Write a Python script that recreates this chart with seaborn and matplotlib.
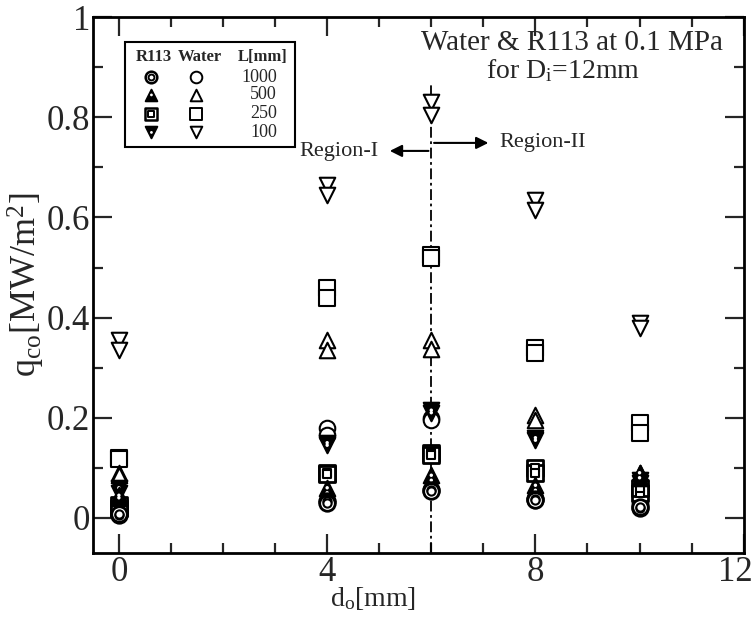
import numpy as np
import pandas as pd
import matplotlib
matplotlib.use("Agg")
import matplotlib.pyplot as plt
import matplotlib.transforms as mtransforms
import seaborn as sns

# Outlet orifice diameter d_o [mm]
d_o = [0, 4, 6, 8, 10]

# Critical heat flux q_co [MW/m^2], two runs per condition
water_100_a = [0.355, 0.665, 0.830, 0.635, 0.390]
water_100_b = [0.335, 0.645, 0.805, 0.615, 0.380]
water_250_a = [0.120, 0.460, 0.525, 0.340, 0.190]
water_250_b = [0.118, 0.440, 0.520, 0.330, 0.170]
water_500_a = [0.090, 0.355, 0.355, 0.205, 0.090]
water_500_b = [0.085, 0.335, 0.338, 0.195, 0.085]
water_1000_a = [0.020, 0.180, 0.200, 0.040, 0.030]
water_1000_b = [0.015, 0.165, 0.195, 0.035, 0.025]

r113_100_a = [0.060, 0.150, 0.215, 0.160, 0.075]
r113_100_b = [0.050, 0.145, 0.210, 0.155, 0.070]
r113_250_a = [0.020, 0.090, 0.130, 0.100, 0.050]
r113_250_b = [0.025, 0.088, 0.125, 0.090, 0.060]
r113_500_a = [0.045, 0.060, 0.085, 0.065, 0.090]
r113_500_b = [0.040, 0.050, 0.075, 0.055, 0.080]
r113_1000_a = [0.005, 0.033, 0.056, 0.038, 0.020]
r113_1000_b = [0.008, 0.030, 0.054, 0.035, 0.022]

lengths = [1000, 500, 250, 100]

series = {
    ("Water", 100): (water_100_a, water_100_b),
    ("Water", 250): (water_250_a, water_250_b),
    ("Water", 500): (water_500_a, water_500_b),
    ("Water", 1000): (water_1000_a, water_1000_b),
    ("R113", 100): (r113_100_a, r113_100_b),
    ("R113", 250): (r113_250_a, r113_250_b),
    ("R113", 500): (r113_500_a, r113_500_b),
    ("R113", 1000): (r113_1000_a, r113_1000_b),
}

rows = []
for (fluid, L), runs in series.items():
    for run in runs:
        for x, q in zip(d_o, run):
            rows.append({"d_o": x, "q": q, "fluid": fluid, "L": L})
df = pd.DataFrame(rows)

sns.set_style("ticks")
plt.rcParams["font.family"] = ["Liberation Serif", "DejaVu Serif"]
plt.rcParams["mathtext.fontset"] = "custom"
plt.rcParams["mathtext.rm"] = "Liberation Serif"
plt.rcParams["mathtext.it"] = "Liberation Serif:italic"

fig = plt.figure(figsize=(7.55, 6.17), dpi=100)
ax = fig.add_axes([0.123, 0.104, 0.862, 0.868])

base_marker = {1000: "o", 500: "^", 250: "s", 100: "v"}
S_OUT = 125
LW = 1.5


def draw_series(data, ax, fluid, L):
    m = base_marker[L]
    kw = dict(ax=ax, legend=False, zorder=3)
    if fluid == "Water":
        sns.scatterplot(data=data, x="d_o", y="q", marker=m, s=S_OUT,
                        facecolor="white", edgecolor="black", linewidth=LW, **kw)
    elif L in (1000, 250):
        sns.scatterplot(data=data, x="d_o", y="q", marker=m, s=S_OUT,
                        facecolor="white", edgecolor="black", linewidth=LW + 0.5, **kw)
        sns.scatterplot(data=data, x="d_o", y="q", marker=m, s=S_OUT * 0.28,
                        facecolor="white", edgecolor="black", linewidth=LW, **kw)
    else:
        sns.scatterplot(data=data, x="d_o", y="q", marker=m, s=S_OUT,
                        facecolor="black", edgecolor="black", linewidth=LW, **kw)
        sns.scatterplot(data=data, x="d_o", y="q", marker="o", s=6,
                        facecolor="white", edgecolor="none", linewidth=0, **kw)


# Water first, R113 on top
for fluid in ["Water", "R113"]:
    for L in [100, 250, 500, 1000]:
        sub = df[(df.fluid == fluid) & (df.L == L)]
        draw_series(sub, ax, fluid, L)

# Boundary between the two regions
ax.plot([6, 6], [-0.07, 0.866], color="black", lw=1.3, ls=(0, (6, 2, 1.5, 2)), zorder=2)
ax.annotate("", xy=(5.15, 0.733), xytext=(6.0, 0.733),
            arrowprops=dict(arrowstyle="-|>", color="black", lw=1.5, mutation_scale=18))
ax.annotate("", xy=(7.15, 0.749), xytext=(6.0, 0.749),
            arrowprops=dict(arrowstyle="-|>", color="black", lw=1.5, mutation_scale=18))
ax.text(4.98, 0.731, "Region-I", ha="right", va="center", fontsize=16)
ax.text(7.3, 0.749, "Region-II", ha="left", va="center", fontsize=16)

ax.text(11.6, 0.948, "Water & R113 at 0.1 MPa", ha="right", va="center", fontsize=21)
ax.text(7.06, 0.893, "for D$_{\\rm i}$=12mm", ha="left", va="center", fontsize=20)

ax.set_xlim(-0.5, 12)
ax.set_ylim(-0.07, 1.0)
ax.set_xticks([0, 4, 8, 12])
ax.set_xticks(np.arange(0, 12.5, 1), minor=True)
ax.set_yticks([0, 0.2, 0.4, 0.6, 0.8, 1.0])
ax.set_yticklabels(["0", "0.2", "0.4", "0.6", "0.8", "1"])
ax.set_yticks(np.arange(0, 1.01, 0.1), minor=True)
ax.tick_params(which="both", direction="in", top=True, right=True, width=1.6, labelsize=25)
ax.tick_params(which="major", length=14, pad=2)
ax.tick_params(which="minor", length=7)
for sp in ax.spines.values():
    sp.set_linewidth(2)
    sp.set_color("black")

# keep the last x tick label inside the canvas
last = ax.get_xticklabels()[-1]
last.set_transform(last.get_transform() + mtransforms.ScaledTranslation(-8 / 100, 0, fig.dpi_scale_trans))

ax.set_xlabel("d$_{\\rm o}$[mm]", fontsize=20)
ax.xaxis.set_label_coords(0.43, -0.06)
ax.set_ylabel("q$_{\\rm co}$[MW/m$^{2}$]", fontsize=26)
ax.yaxis.set_label_coords(-0.07, 0.5)

# Key table
box = plt.Rectangle((0.05, 0.758), 0.261, 0.196, transform=ax.transAxes,
                    fill=False, lw=1.5, ec="black", zorder=4)
ax.add_patch(box)
hy = 0.925
ax.text(0.066, hy, "R113", transform=ax.transAxes, fontsize=12, fontweight="bold", va="center")
ax.text(0.131, hy, "Water", transform=ax.transAxes, fontsize=12, fontweight="bold", va="center")
ax.text(0.222, hy, "L[mm]", transform=ax.transAxes, fontsize=12, fontweight="bold", va="center")
row_y = [0.888, 0.855, 0.82, 0.785]
for L, yy in zip(lengths, row_y):
    m = base_marker[L]
    if L in (1000, 250):
        ax.scatter([0.09], [yy], transform=ax.transAxes, marker=m, s=70, fc="white", ec="black", lw=1.8, zorder=5)
        ax.scatter([0.09], [yy], transform=ax.transAxes, marker=m, s=18, fc="white", ec="black", lw=1.4, zorder=5)
    else:
        ax.scatter([0.09], [yy], transform=ax.transAxes, marker=m, s=70, fc="black", ec="black", lw=1.4, zorder=5)
        ax.scatter([0.09], [yy], transform=ax.transAxes, marker="o", s=4, fc="white", ec="none", zorder=6)
    ax.scatter([0.158], [yy], transform=ax.transAxes, marker=m, s=70, fc="white", ec="black", lw=1.4, zorder=5)
    ax.text(0.283, yy, str(L), transform=ax.transAxes, fontsize=13, ha="right", va="center")

fig.savefig("out.png", dpi=100)
